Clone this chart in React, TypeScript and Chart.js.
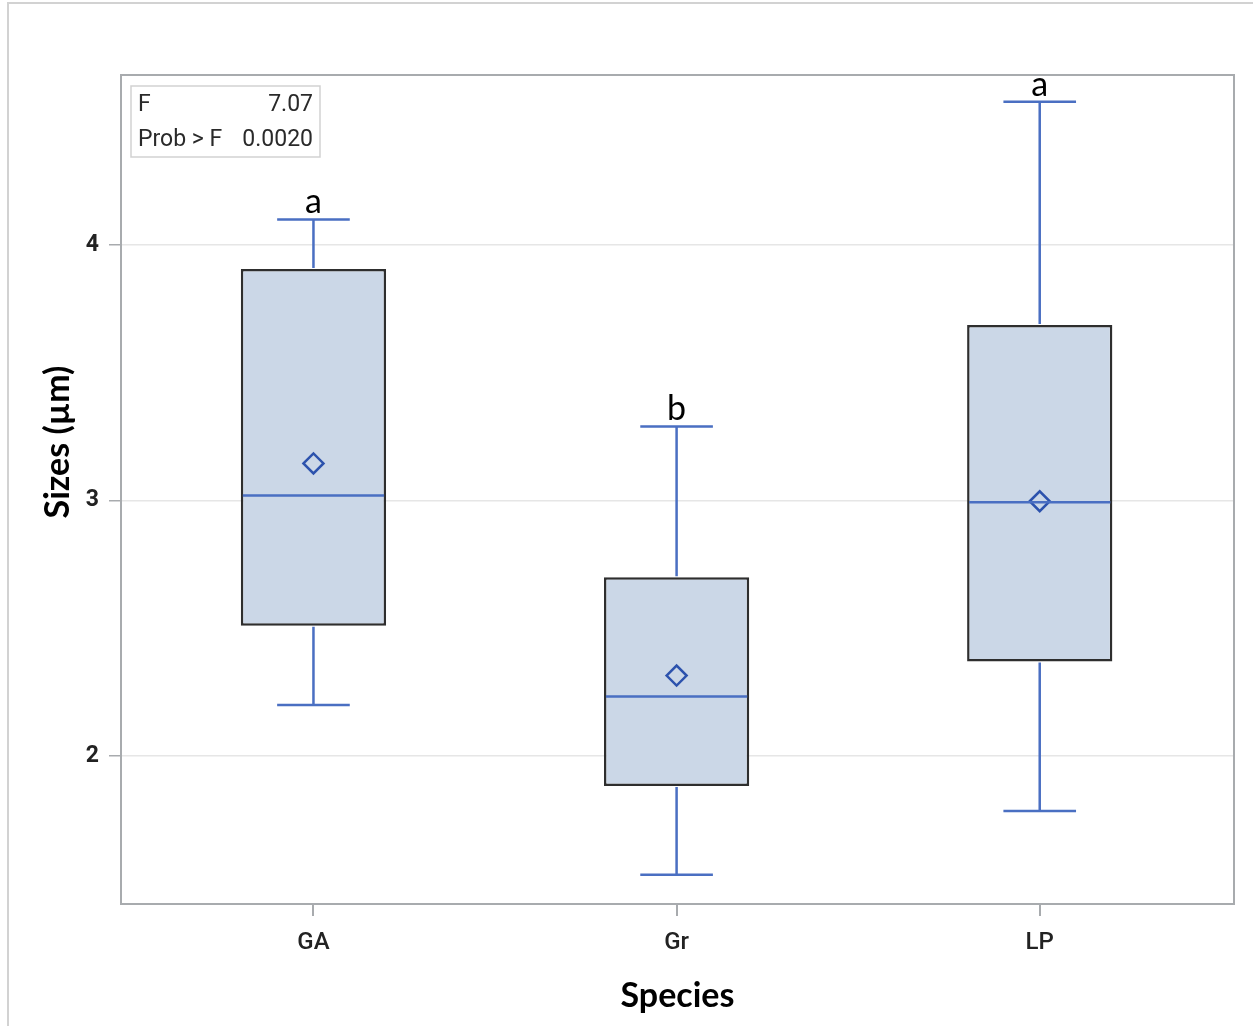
import React, { useEffect, useRef } from "react";
import { Chart, registerables } from "chart.js";

Chart.register(...registerables);

const categories = ["GA", "Gr", "LP"];
const whiskerLow = [2.2, 1.535, 1.785];
const q1 = [2.51, 1.883, 2.37];
const median = [3.02, 2.233, 2.993];
const q3 = [3.906, 2.7, 3.687];
const whiskerHigh = [4.1, 3.29, 4.56];
const means = [3.145, 2.315, 2.997];
const groupLetters = ["a", "b", "a"];
const yTicks = [2, 3, 4];
const statNames = ["F", "Prob > F"];
const statValues = ["7.07", "0.0020"];
const xTitle = "Species";
const yTitle = "Sizes (µm)";

const BLUE = "#4a6fc2";
const SANS = 'Roboto, "Liberation Sans", sans-serif';
const CAL = 'Lato, "Open Sans", sans-serif';

const boxPlugin = {
  id: "boxExtras",
  afterDatasetsDraw(chart: any) {
    const { ctx, scales } = chart;
    const xs = scales.x;
    const ys = scales.y;
    const unit = xs.getPixelForValue(1) - xs.getPixelForValue(0);
    const boxHalf = unit * 0.2;
    const capHalf = unit * 0.1;
    ctx.save();
    ctx.strokeStyle = BLUE;
    ctx.lineWidth = 2.5;
    categories.forEach((_, i) => {
      const cx = xs.getPixelForValue(i);
      const yLo = ys.getPixelForValue(whiskerLow[i]);
      const yQ1 = ys.getPixelForValue(q1[i]);
      const yQ3 = ys.getPixelForValue(q3[i]);
      const yHi = ys.getPixelForValue(whiskerHigh[i]);
      const yMed = ys.getPixelForValue(median[i]);
      ctx.beginPath();
      ctx.moveTo(cx, yQ3 - 1);
      ctx.lineTo(cx, yHi);
      ctx.moveTo(cx - capHalf, yHi);
      ctx.lineTo(cx + capHalf, yHi);
      ctx.moveTo(cx, yQ1 + 1);
      ctx.lineTo(cx, yLo);
      ctx.moveTo(cx - capHalf, yLo);
      ctx.lineTo(cx + capHalf, yLo);
      ctx.moveTo(cx - boxHalf + 2, yMed);
      ctx.lineTo(cx + boxHalf - 2, yMed);
      ctx.stroke();
      ctx.fillStyle = "#000";
      ctx.font = `34px ${CAL}`;
      ctx.textAlign = "center";
      ctx.textBaseline = "alphabetic";
      ctx.fillText(groupLetters[i], cx, yHi - 6);
    });
    ctx.restore();
  },
  afterDraw(chart: any) {
    const { ctx, chartArea } = chart;
    const { left, top, right, bottom } = chartArea;
    ctx.save();
    ctx.strokeStyle = "#a8abae";
    ctx.lineWidth = 2;
    ctx.strokeRect(left, top, right - left, bottom - top);
    // inset stats box
    ctx.strokeStyle = "#d2d2d2";
    ctx.lineWidth = 1.5;
    ctx.strokeRect(left + 10, top + 11, 189, 71);
    ctx.fillStyle = "#2a2a2a";
    ctx.font = `23px ${SANS}`;
    ctx.textBaseline = "alphabetic";
    statNames.forEach((n, i) => {
      const by = top + 36 + i * 35;
      ctx.textAlign = "left";
      ctx.fillText(n, left + 17, by);
      ctx.textAlign = "right";
      ctx.fillText(statValues[i], left + 192, by);
    });
    // y title
    ctx.fillStyle = "#000";
    ctx.font = `bold 34px ${CAL}`;
    ctx.textAlign = "center";
    ctx.textBaseline = "middle";
    ctx.translate(left - 63, top + 367);
    ctx.rotate(-Math.PI / 2);
    ctx.fillText(yTitle, 0, 0);
    ctx.restore();
  },
};

export default function App() {
  const ref = useRef<HTMLCanvasElement | null>(null);
  useEffect(() => {
    if (!ref.current) return;
    const chart = new Chart(ref.current, {
      type: "bar",
      data: {
        datasets: [
          {
            type: "bar",
            data: categories.map((_, i) => ({ x: i, y: [q1[i], q3[i]] })) as any,
            backgroundColor: "#cbd7e7",
            borderColor: "#2e2e2e",
            borderWidth: 2.5,
            borderSkipped: false,
            barPercentage: 0.4,
            categoryPercentage: 1,
            order: 2,
          } as any,
          {
            type: "scatter",
            data: categories.map((_, i) => ({ x: i, y: means[i] })),
            pointStyle: "rectRot",
            pointRadius: 10,
            pointBorderColor: "#2c52ad",
            pointBackgroundColor: "rgba(0,0,0,0)",
            pointBorderWidth: 2.5,
            order: 1,
          } as any,
        ],
      },
      options: {
        responsive: false,
        animation: false,
        layout: { padding: { left: 0, top: 75, right: 19, bottom: 0 } },
        plugins: { legend: { display: false }, tooltip: { enabled: false } },
        scales: {
          x: {
            type: "linear",
            offset: false,
            min: -0.53,
            max: 2.535,
            afterBuildTicks: (s: any) => {
              s.ticks = categories.map((_, i) => ({ value: i }));
            },
            afterFit: (s: any) => {
              s.height = 122;
            },
            ticks: {
              callback: (v: any) => categories[v] ?? "",
              font: { family: SANS, size: 24, weight: "500" },
              color: "#222",
              padding: 13,
              maxRotation: 0,
            },
            grid: {
              offset: false,
              drawOnChartArea: false,
              drawTicks: true,
              tickLength: 12,
              tickColor: "#a8abae",
              lineWidth: 2,
            },
            border: { display: false },
            title: {
              display: true,
              text: xTitle,
              font: { family: CAL, size: 34, weight: "bold" },
              color: "#000",
              padding: { top: 0, bottom: 10 },
            },
          },
          y: {
            type: "linear",
            min: 1.421,
            max: 4.665,
            afterBuildTicks: (s: any) => {
              s.ticks = yTicks.map((v) => ({ value: v }));
            },
            afterFit: (s: any) => {
              s.width = 121;
            },
            ticks: {
              font: { family: SANS, size: 23, weight: "bold" },
              color: "#222",
              padding: 10,
            },
            grid: {
              color: "#e6e6e6",
              lineWidth: 1.5,
              tickColor: "#a8abae",
              tickLength: 12,
            },
            border: { display: false },
          },
        },
      } as any,
      plugins: [boxPlugin],
    });
    return () => chart.destroy();
  }, []);
  return (
    <div
      style={{
        position: "absolute",
        left: 0,
        top: 0,
        width: 1253,
        height: 1026,
        background: "#fff",
        overflow: "hidden",
      }}
    >
      <div
        style={{
          position: "absolute",
          left: 7,
          top: 2,
          width: 1300,
          height: 1100,
          borderLeft: "2px solid #d2d2d2",
          borderTop: "2px solid #d2d2d2",
        }}
      />
      <canvas
        ref={ref}
        width={1253}
        height={1026}
        style={{ position: "absolute", left: 0, top: 0, width: 1253, height: 1026 }}
      />
    </div>
  );
}
